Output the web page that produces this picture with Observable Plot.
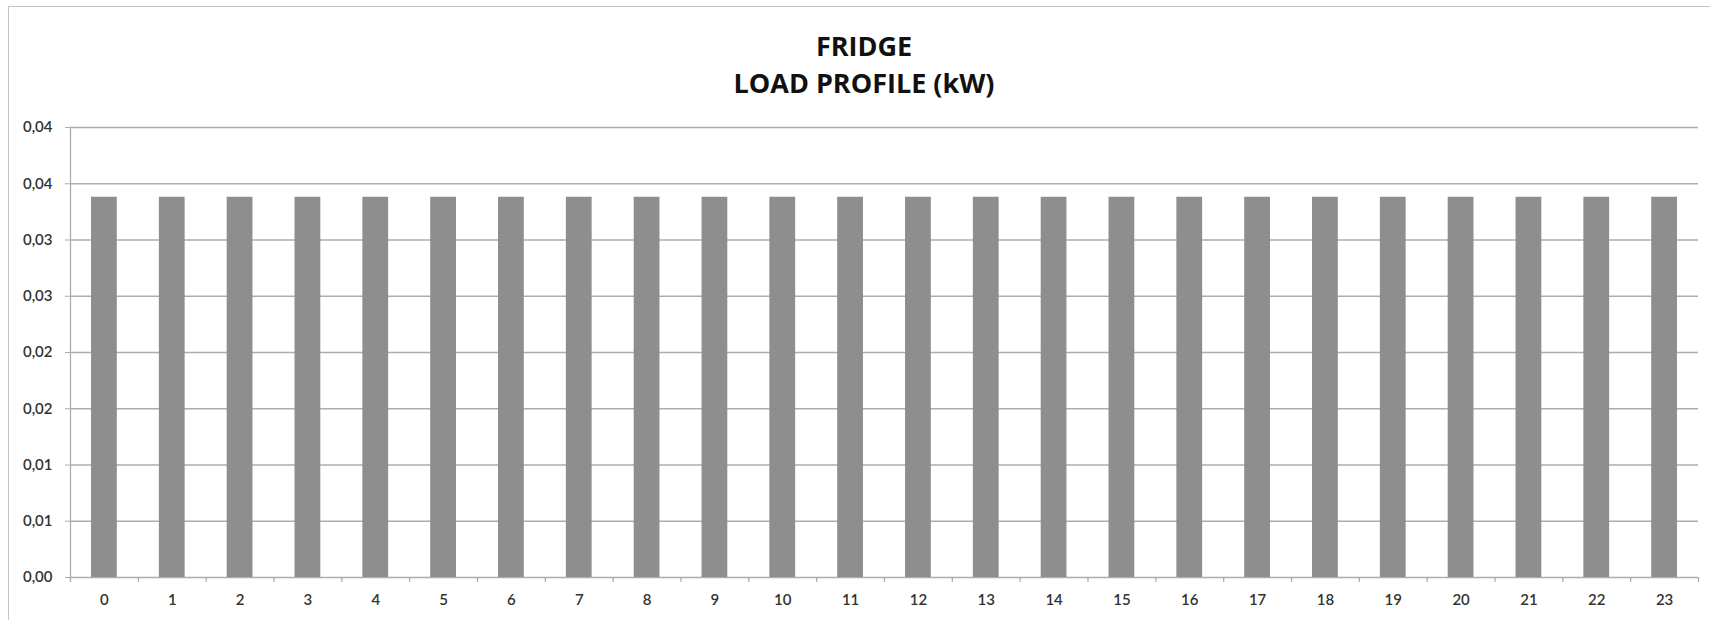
<!DOCTYPE html>
<html>
<head>
<meta charset="utf-8">
<script src="https://cdn.jsdelivr.net/npm/d3@7"></script>
<script src="https://cdn.jsdelivr.net/npm/@observablehq/plot@0.6"></script>
<style>
  html, body { margin: 0; padding: 0; background: #fff; }
  #wrap { position: relative; width: 1710px; height: 620px; overflow: hidden; background: #fff; }
  #frame { position: absolute; left: 8px; top: 6px; width: 1720px; height: 640px; border: 1.5px solid #c4c4c4; box-sizing: border-box; pointer-events: none; }
  #title { position: absolute; left: 0; top: 27px; width: 1728px; text-align: center; font-family: "Open Sans", sans-serif; font-weight: 700; font-size: 27px; line-height: 37px; color: #111; }
  #chart { position: absolute; left: 0; top: 100px; }
</style>
</head>
<body>
<div id="wrap">
  <div id="title">FRIDGE<br>LOAD PROFILE (kW)</div>
  <div id="chart"></div>
  <div id="frame"></div>
</div>
<script>
const hours = [0,1,2,3,4,5,6,7,8,9,10,11,12,13,14,15,16,17,18,19,20,21,22,23];
const load = [0.0338,0.0338,0.0338,0.0338,0.0338,0.0338,0.0338,0.0338,0.0338,0.0338,0.0338,0.0338,0.0338,0.0338,0.0338,0.0338,0.0338,0.0338,0.0338,0.0338,0.0338,0.0338,0.0338,0.0338];
const yTicks = [0,0.005,0.01,0.015,0.02,0.025,0.03,0.035,0.04];
const yTickLabels = ["0,00","0,01","0,01","0,02","0,02","0,03","0,03","0,04","0,04"];

const data = hours.map((h, i) => ({hour: h, kw: load[i]}));

const W = 1710, H = 520, ML = 70, MR = 12, MT = 27, MB = 43;
const step = (W - ML - MR) / hours.length;
const gray = "#adadad";

const chart = Plot.plot({
  width: W,
  height: H,
  marginLeft: ML,
  marginRight: MR,
  marginTop: MT,
  marginBottom: MB,
  style: {fontFamily: "Lato, 'Open Sans', sans-serif", fontSize: "15px", color: "#333", background: "transparent"},
  x: {type: "band", domain: hours, paddingInner: 0.62, paddingOuter: 0.31, round: false},
  y: {domain: [0, 0.04]},
  marks: [
    Plot.ruleY(yTicks, {y: d => d, stroke: gray, strokeWidth: 1.3, strokeOpacity: 1}),
    Plot.barY(data, {x: "hour", y: "kw", fill: "#8e8e8e"}),
    Plot.ruleX([0], {x: d => d, y1: 0, y2: 0.04, stroke: gray, strokeWidth: 1.3, dx: -step/2}),
    Plot.ruleX(hours, {x: d => d, y1: 0, y2: 0, insetBottom: -5, dx: -step/2, stroke: gray, strokeWidth: 1.3}),
    Plot.ruleX([23], {x: d => d, y1: 0, y2: 0, insetBottom: -5, dx: step/2, stroke: gray, strokeWidth: 1.3}),
    Plot.axisY({ticks: yTicks, tickFormat: (d, i) => yTickLabels[i], tickSize: 5, tickPadding: 13, stroke: gray, label: null, fontWeight: 600, fill: "#333"}),
    Plot.axisX({tickSize: 0, tickPadding: 17, label: null, fontWeight: 600, fill: "#333"})
  ]
});
document.getElementById("chart").appendChild(chart);
</script>
</body>
</html>
